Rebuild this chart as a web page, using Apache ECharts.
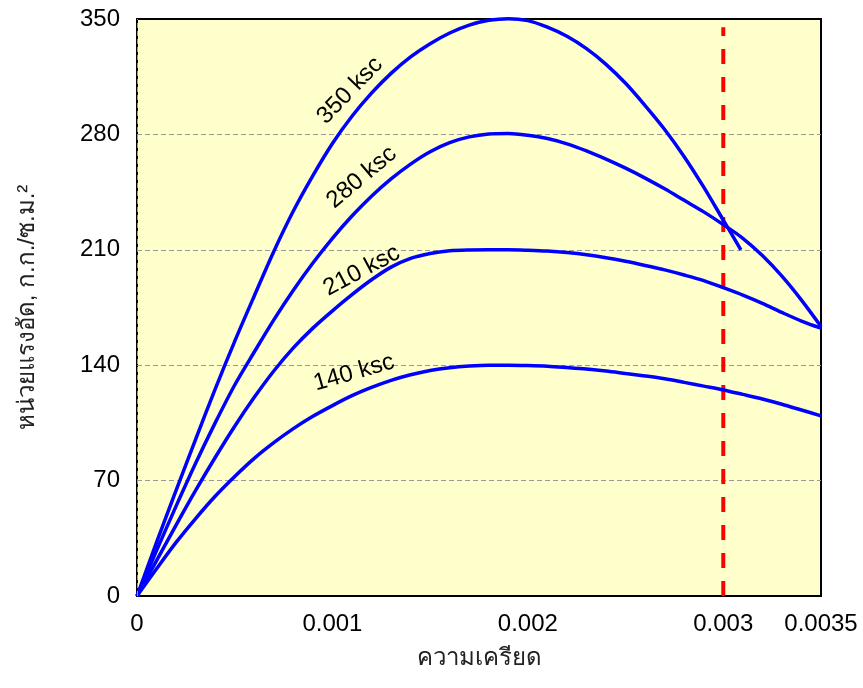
<!DOCTYPE html>
<html>
<head>
<meta charset="utf-8">
<script src="https://cdn.jsdelivr.net/npm/echarts@6/dist/echarts.min.js"></script>
<style>
  html, body { margin: 0; padding: 0; background: #fff; }
  #chart { width: 863px; height: 688px; }
</style>
</head>
<body>
<div id="chart"></div>
<script>
// stress (ksc) every 0.0001 of strain
const strain = [
  0, 0.0001, 0.0002, 0.0003, 0.0004, 0.0005, 0.0006, 0.0007, 0.0008, 0.0009,
  0.001, 0.0011, 0.0012, 0.0013, 0.0014, 0.0015, 0.0016, 0.0017, 0.0018, 0.0019,
  0.002, 0.0021, 0.0022, 0.0023, 0.0024, 0.0025, 0.0026, 0.0027, 0.0028, 0.0029,
  0.003, 0.0031, 0.0032, 0.0033, 0.0034, 0.0035
]
const stress280 = [
  0, 27.5, 54.5, 80.5, 105, 128, 148, 167.5, 185.5, 202,
  217, 230.5, 242.5, 253, 262, 269.5, 275, 278.5, 280.3, 280.6,
  279.5, 277.5, 274.3, 270, 265, 259.5, 253.5, 247, 240, 233,
  225.3, 217, 206.5, 194, 179.5, 163.5
]
const stress210 = [
  0, 21.5, 43, 64, 84, 103, 120.5, 136.5, 150.5, 162.5,
  173, 182.8, 191.8, 199.5, 204.8, 207.8, 209.4, 209.9, 210, 210,
  209.7, 209.2, 208.3, 207, 205.2, 203, 200.5, 197.8, 194.7, 191.3,
  187, 182.5, 177.5, 172, 166.8, 162.5
]
const stress140 = [
  0, 16.5, 32.5, 47, 60.5, 72.5, 83.5, 93, 101.5, 109,
  115.5, 121.5, 126.5, 130.8, 134.2, 136.8, 138.5, 139.5, 140, 140,
  139.8, 139.4, 138.6, 137.7, 136.5, 135, 133.5, 131.8, 129.6, 127.3,
  125, 122.3, 119.5, 116.3, 112.8, 109.3
]

// the 350 ksc curve stops a little past 0.003
const strain350 = [
  0, 0.0001, 0.0002, 0.0003, 0.0004, 0.0005, 0.0006, 0.0007, 0.0008, 0.0009,
  0.001, 0.0011, 0.0012, 0.0013, 0.0014, 0.0015, 0.0016, 0.0017, 0.0018, 0.0019,
  0.002, 0.0021, 0.0022, 0.0023, 0.0024, 0.0025, 0.0026, 0.0027, 0.0028, 0.0029,
  0.003, 0.00309
]
const stress350 = [
  0, 32.5, 64, 95, 125.5, 154.5, 182, 209, 233.5, 255,
  274.5, 291, 305, 317, 327, 335, 341.5, 346.3, 349.2, 350.2,
  349, 345, 339.5, 332, 322.5, 311, 297.5, 283, 266.5, 248,
  228, 210
]

const curveNames = ['350 ksc', '280 ksc', '210 ksc', '140 ksc']
const xTickLabels = ['0', '0.001', '0.002', '0.003', '0.0035']
const xGridStrains = [0.001, 0.002]
const limitStrain = 0.003
const limitTop = 345

// where the curve names sit (data coords) and their tilt in degrees
const namePos = [[0.00109, 306.6], [0.00115, 254], [0.00115, 197.3], [0.00111, 135.4]]
const nameAngle = [46, 40, 28, 16]

const font = "'Liberation Sans', Arial, 'Noto Sans', sans-serif"
const zip = (xs, ys) => xs.map((x, i) => [x, ys[i]])

const chart = echarts.init(document.getElementById('chart'))

const curves = [
  zip(strain350, stress350),
  zip(strain, stress280),
  zip(strain, stress210),
  zip(strain, stress140)
]

const option = {
  animation: false,
  backgroundColor: '#fff',
  grid: {
    left: 137,
    right: 42,
    top: 19,
    bottom: 92,
    show: true,
    backgroundColor: '#FFFFCC',
    borderColor: '#000',
    borderWidth: 2
  },
  xAxis: {
    type: 'value',
    min: 0,
    max: 0.0035,
    interval: 0.0005,
    name: 'ความเครียด',
    nameLocation: 'middle',
    nameGap: 50,
    nameTextStyle: { color: '#222', fontSize: 24, fontFamily: font },
    axisLine: { show: false },
    axisTick: { show: false },
    splitLine: { show: false },
    axisLabel: {
      color: '#000',
      fontSize: 24,
      fontFamily: font,
      margin: 16,
      showMaxLabel: true,
      formatter: function (v) {
        const s = String(+v.toFixed(4))
        return xTickLabels.indexOf(s) >= 0 ? s : ''
      }
    }
  },
  yAxis: {
    type: 'value',
    min: 0,
    max: 350,
    interval: 70,
    name: 'หน่วยแรงอัด, ก.ก./ซ.ม.²',
    nameLocation: 'middle',
    nameGap: 98,
    nameTextStyle: { color: '#222', fontSize: 24, fontFamily: font },
    axisLine: { show: false },
    axisTick: { show: false },
    axisLabel: { color: '#000', fontSize: 24, fontFamily: font, margin: 17 },
    splitLine: {
      show: true,
      showMinLine: false,
      showMaxLine: false,
      lineStyle: { color: '#999', width: 1, type: [5, 3] }
    }
  },
  series: [
    {
      // vertical grid lines only at 0.001 and 0.002
      type: 'line',
      data: [],
      silent: true,
      markLine: {
        silent: true,
        symbol: 'none',
        label: { show: false },
        lineStyle: { color: '#999', width: 1, type: [5, 3] },
        data: xGridStrains.map(x => ({ xAxis: x }))
      }
    },
    {
      type: 'line',
      data: [[limitStrain, 0], [limitStrain, limitTop]],
      showSymbol: false,
      silent: true,
      z: 1,
      lineStyle: { color: '#FF0000', width: 4, type: [15, 13] }
    }
  ].concat(curves.map((d, i) => ({
    name: curveNames[i],
    type: 'line',
    data: d,
    smooth: 0.3,
    showSymbol: false,
    clip: false,
    z: 3,
    lineStyle: { color: '#0000FF', width: 3.5 }
  })))
}

chart.setOption(option)

// curve names, tilted along each curve
chart.setOption({
  graphic: namePos.map((p, i) => {
    const px = chart.convertToPixel({ gridIndex: 0 }, p)
    return {
      type: 'text',
      x: px[0],
      y: px[1],
      rotation: nameAngle[i] * Math.PI / 180,
      z: 10,
      style: {
        text: curveNames[i],
        fill: '#000',
        font: '24px ' + font,
        align: 'center',
        verticalAlign: 'middle'
      }
    }
  })
})
</script>
</body>
</html>
